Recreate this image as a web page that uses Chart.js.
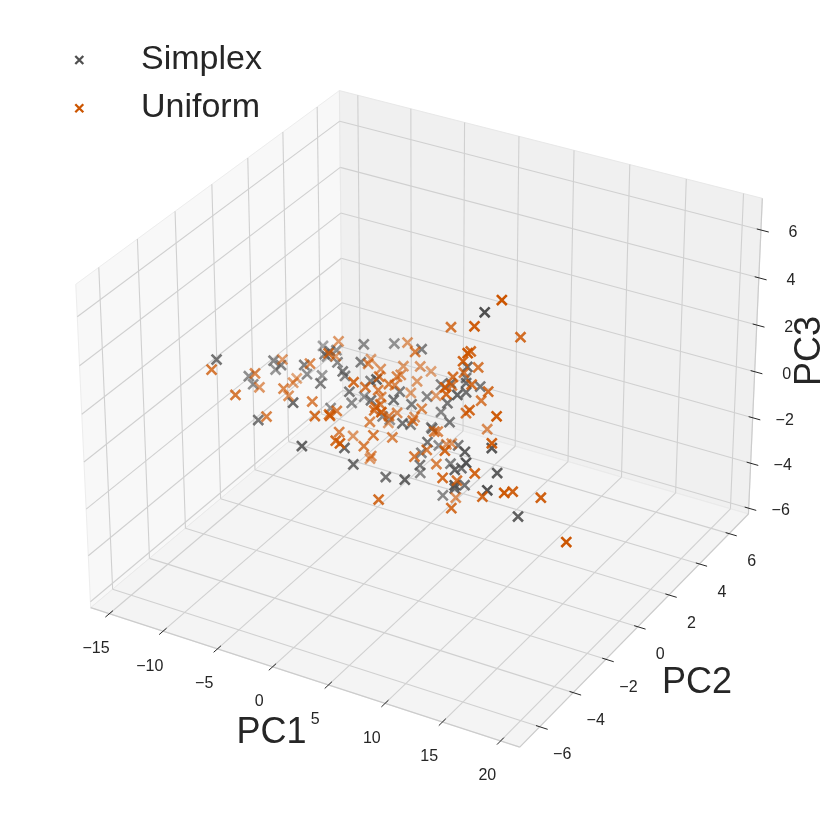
<!DOCTYPE html>
<html>
<head>
<meta charset="utf-8">
<script src="https://cdn.jsdelivr.net/npm/chart.js@4.4.1/dist/chart.umd.min.js"></script>
<style>
  html, body { margin: 0; padding: 0; background: #fff; }
  #wrap { width: 830px; height: 830px; }
</style>
</head>
<body>
<div id="wrap"><canvas id="pca" width="830" height="830"></canvas></div>
<script>
// PCA scores
const simplexPC1 = [
  -12.0, -12.4, -12.0, -8.2, -10.0, -11.5, -9.3, -4.9, -2.5, -10.2,
  -6.8, -7.1, -8.5, -8.7, -5.6, -6.3, -7.3, -5.6, -4.7, -3.4,
  0.7, -3.4, -3.5, -4.9, 1.2, -2.5, -2.9, -4.7, 0.2, 1.2,
  1.2, -4.3, -0.9, -1.4, -2.3, 1.3, 2.0, 1.2, 1.6, 3.2,
  4.3, -0.2, 0.6, 2.0, 5.3, 2.1, 3.6, 2.2, 2.3, 4.9,
  8.3, 9.8, 8.3, 4.2, 11.6, 5.6, 9.2, 10.8, 7.4, 12.1,
  7.7, 12.7, 14.0, 9.4, 6.4, 4.8, 6.3, 2.5, 4.9, 6.1,
  7.0, 6.3, 4.6, 2.5, 4.8, -8.2, -6.3
];
const simplexPC2 = [
  -3, -1, -1, -3, -1, 0, -1, -3, -4, 2,
  0, -1, 0, 1, -1, 0, 1, 0, 1, 2,
  1, 0, -1, 0, -2, 0, -1, 1, 0, -1,
  1, 0, -1, 0, 1, 0, -1, 0, 1, 0,
  -1, -3, -3, -2, -3, 0, -1, 0, 1, 0,
  -2, -3, -2, 0, -2, 0, -2, -3, -1, -2,
  -1, -3, -2, -1, 0, 1, 0, 1, 0, 1,
  -1, 0, 0, 1, 0, 1, 0
];
const simplexPC3 = [
  2.4, 0.4, 0.1, 0.3, 1.4, 0.2, 1.3, 1.5, 0.6, 0.2,
  1.5, 1.6, 0.4, -0.3, 1.0, -0.8, 1.0, 1.3, 1.6, 1.2,
  2.1, 1.6, 1.8, 0.8, 2.7, 0.9, 1.0, -0.7, 0.8, 1.2,
  0.1, -0.3, 0.9, -0.5, -1.4, 0.4, 0.3, -0.5, -1.2, -0.4,
  -0.2, 0.2, -0.4, -1.4, -0.4, -2.5, -1.3, -1.6, -1.9, -1.7,
  -0.2, 0.0, -1.0, -3.2, 1.2, -0.8, 0.7, 1.1, -0.9, 0.2,
  -1.6, 0.2, -1.4, 6.0, 2.7, 1.4, 2.0, 0.8, 1.8, 1.2,
  2.2, 1.6, 0.9, -0.4, 0.1, 0.6, 1.7
];

const uniformPC1 = [
  -12.5, -11.8, -13.1, -10.3, -9.1, -12.5, -9.1, -10.3, -11.5, -12.8,
  -8.2, -4.8, -6.4, -2.9, -3.2, -8.7, -9.0, -3.7, 0.1, -7.2,
  -4.3, -4.7, -1.7, -4.1, -2.5, -3.0, -2.8, -1.6, -0.9, -0.8,
  -1.8, -2.8, -1.4, -1.8, -3.1, -3.4, -1.0, 1.1, -1.6, 3.2,
  -0.6, -0.8, -1.6, 0.7, -1.5, 1.4, -4.0, -2.6, -0.7, -0.5,
  2.7, 3.1, -2.5, -1.6, -5.8, -3.9, -1.0, 1.0, -1.5, -4.1,
  -4.2, 2.9, 3.4, 2.2, 7.4, 1.5, 3.6, 7.2, 8.0, 3.9,
  5.3, 11.6, 2.0, 10.1, 7.0, 10.8, 14.2, 13.5,
  16.0, 19.7, 10.9, 3.4, 8.5, 9.7, 6.7, 9.4, 7.5, 5.9,
  5.1, 4.6, 6.8, 7.4, 3.5, 8.3, 6.0, 6.2, 6.3, 8.1, 12.0
];
const uniformPC2 = [
  -3, -1, 0, -3, -2, 1, -1, 0, 1, 2,
  0, -1, -1, -3, -2, 2, 2, 3, 1, 3,
  1, 2, 0, 3, 3, 4, 2, 1, -2, 0,
  1, 3, -1, 0, 1, 3, 3, -2, 0, -3,
  -1, 0, 1, 1, 2, 0, 2, 0, -1, 0,
  0, -1, 0, -1, 1, -1, -3, -4, -3, -1,
  1, -3, 0, 1, -2, 2, 0, -2, -2, 1,
  2, -2, 2, -2, -1, -2, -3, -2,
  -2, -3, -1, 1, -1, 1, 0, -2, -1, 1,
  0, 1, 0, -2, 1, 0, -1, 1, 0, -1, -2
];
const uniformPC3 = [
  1.9, 0.6, -0.8, 1.1, -0.3, -0.1, 0.3, -0.8, -1.0, -1.6,
  0.9, 2.4, 0.1, 1.2, 0.6, 0.6, -0.1, 0.6, 1.9, -0.6,
  0.8, -0.1, 1.2, -0.5, -0.3, -1.2, -0.1, 0.6, 2.3, 1.0,
  0.2, -1.0, 1.4, 0.6, -0.5, -1.6, -1.4, 1.5, 0.0, 2.2,
  0.5, -0.4, -1.0, -0.5, -1.8, -0.3, -2.4, -0.9, -0.6, -1.3,
  -1.4, -1.0, -2.4, -1.2, -2.6, -0.9, 0.4, 1.2, 1.4, 0.0,
  -3.4, -1.6, -0.5, -1.3, 0.5, -2.6, -1.9, -0.7, -1.9, -4.0,
  -1.4, 1.4, -2.5, -0.1, -1.5, -1.0, 0.3, -0.4,
  -0.3, -1.0, 6.7, 3.4, 5.3, 3.8, 3.4, 4.9, 3.7, 2.0,
  2.1, 1.6, 2.0, 3.2, 0.9, 1.9, 2.1, 0.6, 0.7, 1.7, 2.6
];

const seriesNames = ['Simplex', 'Uniform'];
const xTicks = [-15, -10, -5, 0, 5, 10, 15, 20];
const yTicks = [-6, -4, -2, 0, 2, 4, 6];
const zTicks = [-6, -4, -2, 0, 2, 4, 6];
const xLim = [-16.75, 21.63];
const yLim = [-7.17, 7.32];
const zLim = [-6.26, 7.31];

// camera like matplotlib's default 3d axes (elev 30, azim -60, perspective)
const elev = 30 * Math.PI / 180, azim = -60 * Math.PI / 180;
const aspect = [4, 4, 3].map(a => a * 1.8294640721620434 / Math.hypot(4, 4, 3));
const R = aspect.map(a => a / 2);
const wv = [Math.cos(elev) * Math.cos(azim), Math.cos(elev) * Math.sin(azim), Math.sin(elev)];
const eye = R.map((r, i) => r + 10 * wv[i]);
const cross = (a, b) => [a[1] * b[2] - a[2] * b[1], a[2] * b[0] - a[0] * b[2], a[0] * b[1] - a[1] * b[0]];
const dot = (a, b) => a[0] * b[0] + a[1] * b[1] + a[2] * b[2];
let uv = cross([0, 0, 1], wv);
const un = Math.hypot(...uv);
uv = uv.map(c => c / un);
const vv = cross(wv, uv);

const CX = 425.4, CY = 403.7, SC = 4302;

function project(x, y, z) {
  const p = [
    (x - xLim[0]) / (xLim[1] - xLim[0]) * aspect[0],
    (y - yLim[0]) / (yLim[1] - yLim[0]) * aspect[1],
    (z - zLim[0]) / (zLim[1] - zLim[0]) * aspect[2]
  ];
  const d = p.map((c, i) => c - eye[i]);
  const X = dot(uv, d), Y = dot(vv, d), Z = dot(wv, d);
  return { x: CX + SC * X / -Z, y: CY - SC * Y / -Z, depth: -Z };
}

// far points first, lighter (like depthshade)
function buildSeries(pc1, pc2, pc3, rgb) {
  const pts = pc1.map((v, i) => project(v, pc2[i], pc3[i]));
  const ds = pts.map(p => p.depth);
  const lo = Math.min(...ds), hi = Math.max(...ds);
  pts.sort((a, b) => b.depth - a.depth);
  return {
    data: pts.map(p => ({ x: p.x, y: p.y })),
    colors: pts.map(p => `rgba(${rgb.join(',')},${(1 - 0.5 * (p.depth - lo) / (hi - lo)).toFixed(3)})`)
  };
}

const grayRGB = [80, 80, 80];
const orangeRGB = [204, 85, 0];
const simplex = buildSeries(simplexPC1, simplexPC2, simplexPC3, grayRGB);
const uniform = buildSeries(uniformPC1, uniformPC2, uniformPC3, orangeRGB);

const fmt = v => v < 0 ? '\u2212' + Math.abs(v) : String(v);
const FONT = "'Liberation Sans', Arial, sans-serif";

function poly(ctx, corners, fill, stroke) {
  ctx.beginPath();
  corners.forEach((c, i) => {
    const p = project(...c);
    if (i === 0) ctx.moveTo(p.x, p.y); else ctx.lineTo(p.x, p.y);
  });
  ctx.closePath();
  ctx.fillStyle = fill;
  ctx.fill();
  if (stroke) { ctx.strokeStyle = stroke; ctx.lineWidth = 1; ctx.stroke(); }
}

function seg(ctx, a, b) {
  const p = project(...a), q = project(...b);
  ctx.beginPath();
  ctx.moveTo(p.x, p.y);
  ctx.lineTo(q.x, q.y);
  ctx.stroke();
}

const box3d = {
  id: 'box3d',
  beforeDraw(chart) {
    const ctx = chart.ctx;
    ctx.save();
    ctx.fillStyle = '#ffffff';
    ctx.fillRect(0, 0, chart.width, chart.height);
    ctx.restore();
  },
  beforeDatasetsDraw(chart) {
    const ctx = chart.ctx;
    const [x0, x1] = xLim, [y0, y1] = yLim, [z0, z1] = zLim;
    ctx.save();

    // panes
    poly(ctx, [[x0, y0, z0], [x0, y1, z0], [x0, y1, z1], [x0, y0, z1]], '#f8f8f8', '#ededed');
    poly(ctx, [[x0, y1, z0], [x1, y1, z0], [x1, y1, z1], [x0, y1, z1]], '#f0f0f0', '#e8e8e8');
    poly(ctx, [[x0, y0, z0], [x1, y0, z0], [x1, y1, z0], [x0, y1, z0]], '#f4f4f4', '#eaeaea');

    // grid
    ctx.strokeStyle = '#d0d0d0';
    ctx.lineWidth = 1.1;
    xTicks.forEach(t => {
      seg(ctx, [t, y0, z0], [t, y1, z0]);
      seg(ctx, [t, y1, z0], [t, y1, z1]);
    });
    yTicks.forEach(t => {
      seg(ctx, [x0, t, z0], [x1, t, z0]);
      seg(ctx, [x0, t, z0], [x0, t, z1]);
    });
    zTicks.forEach(t => {
      seg(ctx, [x0, y0, t], [x0, y1, t]);
      seg(ctx, [x0, y1, t], [x1, y1, t]);
    });

    // axis lines
    ctx.strokeStyle = '#cccccc';
    ctx.lineWidth = 1.2;
    seg(ctx, [x0, y0, z0], [x1, y0, z0]);
    seg(ctx, [x1, y0, z0], [x1, y1, z0]);
    seg(ctx, [x1, y1, z0], [x1, y1, z1]);

    // tick marks
    ctx.strokeStyle = '#262626';
    ctx.lineWidth = 1;
    xTicks.forEach(t => seg(ctx, [t, y0 - 0.21, z0], [t, y0 + 0.19, z0]));
    yTicks.forEach(t => seg(ctx, [x1 - 0.32, t, z0], [x1 + 0.68, t, z0]));
    zTicks.forEach(t => seg(ctx, [x1 - 0.36, y1, t], [x1 + 0.68, y1, t]));

    // tick labels
    ctx.fillStyle = '#262626';
    ctx.font = '16px ' + FONT;
    ctx.textAlign = 'center';
    ctx.textBaseline = 'middle';
    xTicks.forEach(t => {
      const p = project(t, y0, z0);
      ctx.fillText(fmt(t), p.x - 13.3, p.y + 35);
    });
    yTicks.forEach(t => {
      const p = project(x1, t, z0);
      ctx.fillText(fmt(t), p.x + 22.5, p.y + 28.3);
    });
    zTicks.forEach(t => {
      const p = project(x1, y1, t);
      ctx.fillText(fmt(t), p.x + 32, p.y + 2.5);
    });

    // axis titles
    ctx.font = '36px ' + FONT;
    ctx.fillText('PC1', 271.5, 733);
    ctx.fillText('PC2', 697, 683);
    ctx.save();
    ctx.translate(810.5, 351);
    ctx.rotate(-Math.PI / 2);
    ctx.fillText('PC3', 0, 0);
    ctx.restore();

    // legend
    const legend = [[seriesNames[0], grayRGB, 60], [seriesNames[1], orangeRGB, 108.3]];
    legend.forEach(([name, rgb, y]) => {
      ctx.strokeStyle = `rgb(${rgb.join(',')})`;
      ctx.lineWidth = 2.3;
      ctx.beginPath();
      ctx.moveTo(79.3 - 4, y - 4); ctx.lineTo(79.3 + 4, y + 4);
      ctx.moveTo(79.3 - 4, y + 4); ctx.lineTo(79.3 + 4, y - 4);
      ctx.stroke();
      ctx.fillStyle = '#262626';
      ctx.font = '34px ' + FONT;
      ctx.textAlign = 'left';
      ctx.textBaseline = 'alphabetic';
      ctx.fillText(name, 141, y + 8.8);
    });

    ctx.restore();
  }
};

const chart = new Chart(document.getElementById('pca'), {
  type: 'scatter',
  data: {
    datasets: [
      {
        label: seriesNames[0],
        data: simplex.data,
        order: 2,
        pointStyle: 'crossRot',
        pointRadius: 7,
        pointHoverRadius: 7,
        pointBorderWidth: 2.6,
        pointBorderColor: simplex.colors,
        pointBackgroundColor: 'transparent'
      },
      {
        label: seriesNames[1],
        data: uniform.data,
        order: 1,
        pointStyle: 'crossRot',
        pointRadius: 7,
        pointHoverRadius: 7,
        pointBorderWidth: 2.6,
        pointBorderColor: uniform.colors,
        pointBackgroundColor: 'transparent'
      }
    ]
  },
  options: {
    responsive: false,
    animation: false,
    layout: { padding: 0 },
    scales: {
      x: { type: 'linear', min: 0, max: 830, display: false },
      y: { type: 'linear', min: 0, max: 830, reverse: true, display: false }
    },
    plugins: {
      legend: { display: false },
      tooltip: { enabled: false }
    }
  },
  plugins: [box3d]
});
</script>
</body>
</html>
